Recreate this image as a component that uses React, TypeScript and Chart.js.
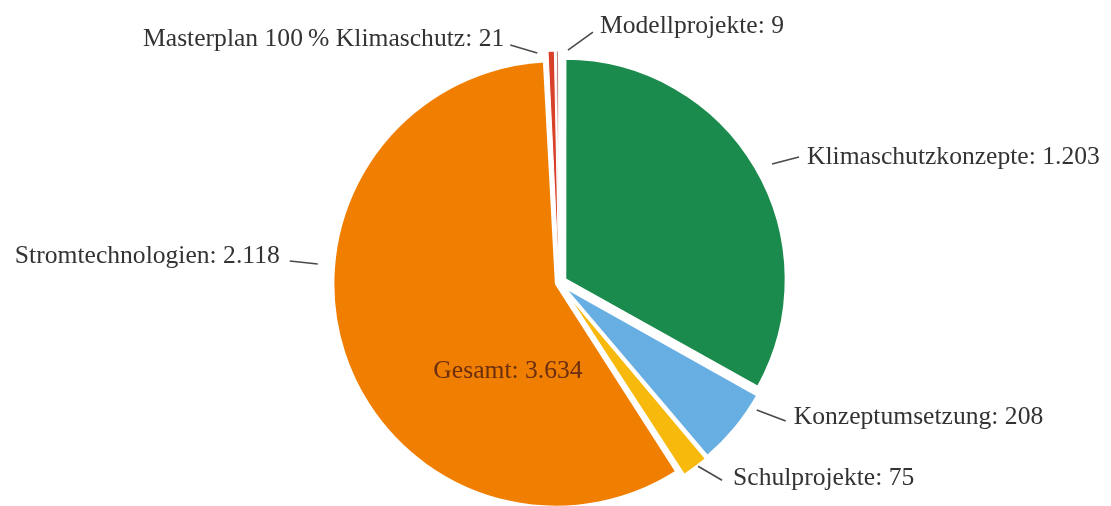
import React, { useEffect, useRef } from "react";
import { Chart, registerables } from "chart.js";

Chart.register(...registerables);

const categories = [
  "Klimaschutzkonzepte",
  "Konzeptumsetzung",
  "Schulprojekte",
  "Stromtechnologien",
  "Masterplan 100\u2009% Klimaschutz",
  "Modellprojekte",
];
const values = [1203, 208, 75, 2118, 21, 9];
const totalLabel = "Gesamt";

const colors = ["#1b8b4d", "#67aee2", "#f6b90c", "#f07e00", "#d8402a", "#8a1c1c"];
const sliceOffsets = [28, 20, 20, 12, 24, 24];
const sliceBorders = [2.5, 2.5, 2.5, 2.5, 1, 1];

// label layout: angle (deg clockwise from top), radial gap beyond the arc, leader vector, text placement
const labelLayout = [
  { angle: 60.8, gap: 24, dx: 27, dy: -7, tx: 8, ty: 7, align: "left" },
  { angle: 122.7, gap: 15, dx: 29, dy: 11, tx: 8, ty: 3, align: "left" },
  { angle: 142.8, gap: 10, dx: 24, dy: 14, tx: 11, ty: 5, align: "left" },
  { angle: 274.5, gap: 22, dx: -28, dy: -3, tx: -10, ty: 2, align: "right" },
  { angle: 354.6, gap: 11, dx: -27, dy: -8, tx: -6, ty: 1, align: "right" },
  { angle: 2.2, gap: 13, dx: 25, dy: -18, tx: 7, ty: 1, align: "left" },
];

const FONT = '25.6px "Liberation Serif", "Times New Roman", serif';

function formatDE(n: number): string {
  return String(n).replace(/\B(?=(\d{3})+(?!\d))/g, ".");
}

const labelPlugin = {
  id: "sliceLabels",
  afterDatasetsDraw(chart: any) {
    const ctx: CanvasRenderingContext2D = chart.ctx;
    const meta = chart.getDatasetMeta(0);
    ctx.save();
    ctx.font = FONT;
    meta.data.forEach((arc: any, i: number) => {
      const { x, y, outerRadius } = arc.getProps(["x", "y", "outerRadius"], true);
      const L = labelLayout[i];
      const a = ((L.angle - 90) * Math.PI) / 180;
      const r = outerRadius + L.gap;
      const sx = x + Math.cos(a) * r;
      const sy = y + Math.sin(a) * r;
      const ex = sx + L.dx;
      const ey = sy + L.dy;
      ctx.strokeStyle = "#4a4a4a";
      ctx.lineWidth = 1.6;
      ctx.beginPath();
      ctx.moveTo(sx, sy);
      ctx.lineTo(ex, ey);
      ctx.stroke();
      ctx.fillStyle = "#333333";
      ctx.textAlign = L.align as CanvasTextAlign;
      ctx.textBaseline = "alphabetic";
      ctx.fillText(`${categories[i]}: ${formatDE(values[i])}`, ex + L.tx, ey + L.ty);
    });
    const first = meta.data[0];
    if (first) {
      const { x, y } = first.getProps(["x", "y"], true);
      const total = values.reduce((s, v) => s + v, 0);
      ctx.fillStyle = "#6b2e0e";
      ctx.textAlign = "center";
      ctx.fillText(`${totalLabel}: ${formatDE(total)}`, x - 51, y + 95);
    }
    ctx.restore();
  },
};

export default function App() {
  const ref = useRef<HTMLCanvasElement | null>(null);
  useEffect(() => {
    document.body.style.margin = "0";
    const canvas = ref.current;
    if (!canvas) return;
    const chart = new Chart(canvas, {
      type: "pie",
      data: {
        labels: categories,
        datasets: [
          {
            data: values,
            backgroundColor: colors,
            borderColor: "#ffffff",
            borderWidth: sliceBorders,
            offset: sliceOffsets,
            clip: false as any,
          },
        ],
      },
      options: {
        responsive: false,
        animation: false,
        radius: 220,
        rotation: 0,
        layout: { padding: { left: 7, right: 0, top: 60, bottom: 0 } },
        plugins: {
          legend: { display: false },
          tooltip: { enabled: false },
        },
      } as any,
      plugins: [labelPlugin],
    });
    return () => chart.destroy();
  }, []);
  return (
    <div style={{ width: 1111, height: 506, background: "#ffffff" }}>
      <canvas ref={ref} width={1111} height={506} />
    </div>
  );
}
